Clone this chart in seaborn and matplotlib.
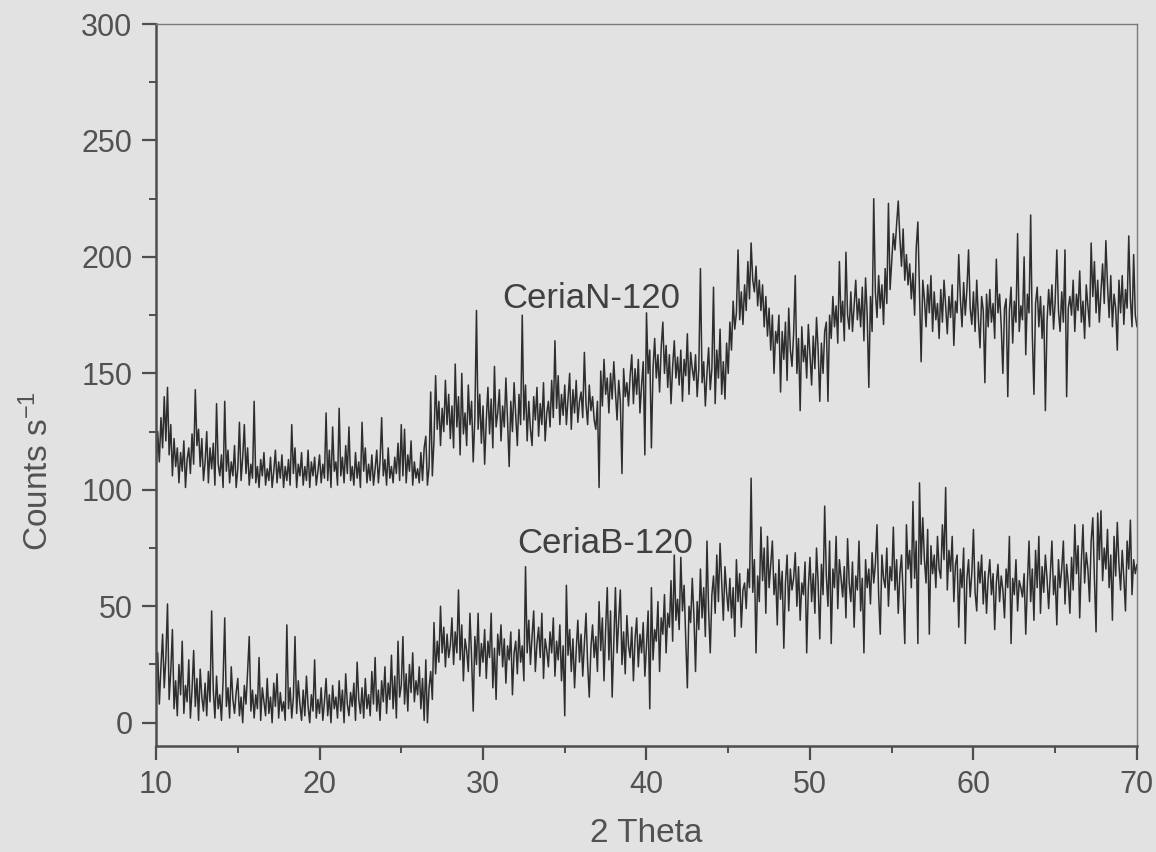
import numpy as np
import pandas as pd
import matplotlib
matplotlib.use("Agg")
import matplotlib.pyplot as plt
import seaborn as sns
from matplotlib.ticker import MultipleLocator

# Diffractogram sampled every 0.1 degree from 10 to 70 (2 theta); one row per degree
ceria_n_counts = [
    108, 125, 112, 131, 118, 140, 121, 144, 115, 128,   # 10
    106, 122, 110, 118, 103, 116, 108, 121, 101, 113,   # 11
    118, 107, 124, 111, 143, 119, 126, 110, 122, 104,   # 12
    112, 125, 103, 118, 109, 120, 102, 137, 111, 106,   # 13
    115, 101, 138, 108, 117, 103, 112, 106, 119, 101,   # 14
    109, 129, 104, 114, 128, 107, 118, 102, 111, 105,   # 15
    138, 103, 110, 101, 113, 106, 116, 102, 109, 104,   # 16
    114, 101, 108, 117, 103, 112, 105, 115, 101, 110,   # 17
    104, 113, 102, 128, 107, 118, 101, 111, 106, 116,   # 18
    102, 110, 104, 117, 101, 112, 106, 114, 102, 108,   # 19
    115, 103, 111, 105, 133, 104, 117, 101, 127, 108,   # 20
    112, 102, 135, 106, 114, 103, 119, 107, 127, 104,   # 21
    110, 102, 116, 105, 112, 101, 129, 108, 118, 103,   # 22
    111, 104, 115, 102, 109, 117, 103, 112, 131, 106,   # 23
    113, 102, 118, 105, 110, 103, 114, 107, 120, 104,   # 24
    128, 106, 126, 103, 115, 108, 121, 102, 112, 105,   # 25
    109, 103, 116, 104, 118, 123, 102, 110, 142, 106,   # 26
    121, 149, 126, 138, 119, 135, 125, 147, 128, 141,   # 27
    122, 136, 118, 154, 127, 140, 115, 150, 124, 133,   # 28
    119, 145, 128, 138, 112, 131, 177, 126, 141, 120,   # 29
    136, 111, 130, 144, 124, 139, 118, 153, 127, 133,   # 30
    143, 121, 136, 127, 148, 130, 110, 138, 125, 146,   # 31
    132, 119, 141, 128, 175, 130, 145, 121, 138, 126,   # 32
    119, 140, 130, 144, 123, 137, 128, 146, 121, 133,   # 33
    138, 127, 147, 131, 164, 135, 149, 128, 141, 132,   # 34
    145, 128, 139, 150, 126, 143, 133, 147, 129, 138,   # 35
    142, 131, 159, 137, 128, 145, 134, 140, 130, 126,   # 36
    138, 101, 151, 136, 156, 141, 148, 133, 150, 139,   # 37
    155, 142, 130, 147, 138, 107, 152, 140, 146, 136,   # 38
    149, 158, 137, 152, 141, 156, 133, 145, 155, 115,   # 39
    176, 150, 160, 118, 152, 165, 148, 158, 142, 161,   # 40
    172, 150, 162, 144, 158, 137, 153, 164, 148, 157,   # 41
    145, 160, 138, 156, 149, 167, 141, 159, 152, 147,   # 42
    158, 140, 152, 195, 146, 155, 136, 150, 161, 143,   # 43
    152, 187, 137, 160, 148, 169, 141, 155, 139, 163,   # 44
    150, 172, 160, 181, 169, 176, 203, 173, 185, 171,   # 45
    188, 177, 198, 182, 206, 190, 185, 196, 179, 190,   # 46
    177, 188, 170, 183, 166, 178, 160, 175, 150, 168,   # 47
    163, 175, 142, 168, 156, 172, 147, 178, 160, 153,   # 48
    167, 192, 150, 165, 134, 170, 155, 162, 148, 171,   # 49
    158, 145, 166, 152, 174, 160, 138, 163, 150, 168,   # 50
    172, 138, 175, 165, 183, 170, 179, 163, 198, 172,   # 51
    181, 164, 202, 175, 169, 185, 168, 179, 190, 173,   # 52
    182, 170, 187, 164, 191, 175, 144, 183, 168, 225,   # 53
    185, 174, 192, 178, 188, 171, 195, 180, 223, 186,   # 54
    198, 210, 203, 214, 224, 208, 196, 212, 190, 201,   # 55
    188, 197, 182, 193, 175, 204, 215, 184, 155, 190,   # 56
    182, 170, 188, 176, 192, 168, 185, 173, 180, 165,   # 57
    186, 172, 190, 179, 167, 183, 174, 188, 162, 181,   # 58
    176, 201, 182, 170, 189, 175, 186, 203, 178, 171,   # 59
    185, 168, 190, 174, 161, 183, 177, 146, 184, 170,   # 60
    186, 172, 180, 165, 199, 176, 184, 170, 150, 178,   # 61
    182, 140, 177, 187, 163, 181, 172, 210, 168, 179,   # 62
    173, 200, 158, 184, 176, 218, 167, 141, 180, 187,   # 63
    170, 183, 165, 179, 134, 172, 186, 175, 188, 169,   # 64
    181, 203, 177, 168, 185, 172, 203, 140, 178, 183,   # 65
    175, 190, 168, 184, 177, 194, 172, 181, 165, 188,   # 66
    179, 170, 206, 183, 198, 176, 190, 172, 185, 197,   # 67
    180, 207, 188, 174, 192, 170, 184, 178, 160, 190,   # 68
    176, 192, 171, 186, 178, 209, 182, 170, 201, 175,   # 69
    170,                                                # 70
]

ceria_b_counts = [
    12, 30, 8, 24, 38, 15, 28, 51, 10, 22,    # 10
    40, 6, 18, 3, 25, 12, 35, 4, 16, 9,       # 11
    27, 2, 14, 31, 7, 19, 1, 23, 11, 5,       # 12
    17, 3, 22, 9, 48, 14, 2, 20, 6, 12,       # 13
    1, 18, 45, 7, 15, 2, 24, 10, 4, 13,       # 14
    19, 3, 11, 0, 16, 8, 22, 37, 5, 14,       # 15
    2, 12, 6, 28, 1, 15, 9, 3, 19, 4,         # 16
    11, 0, 17, 7, 21, 2, 13, 5, 9, 1,         # 17
    42, 6, 15, 2, 11, 37, 4, 18, 8, 1,        # 18
    14, 3, 20, 7, 0, 12, 5, 27, 2, 10,        # 19
    4, 15, 1, 9, 19, 3, 12, 0, 16, 6,         # 20
    11, 2, 18, 5, 14, 0, 21, 8, 3, 13,        # 21
    7, 17, 1, 26, 10, 4, 15, 2, 19, 6,        # 22
    12, 3, 22, 8, 28, 5, 14, 1, 18, 9,        # 23
    24, 4, 17, 10, 29, 6, 20, 2, 35, 11,      # 24
    16, 37, 8, 21, 5, 25, 13, 30, 9, 18,      # 25
    12, 24, 6, 19, 1, 27, 0, 15, 22, 10,      # 26
    43, 21, 35, 26, 50, 30, 41, 24, 38, 28,   # 27
    33, 45, 25, 39, 30, 57, 27, 42, 18, 36,   # 28
    31, 22, 47, 28, 5, 37, 25, 47, 20, 34,    # 29
    26, 40, 19, 35, 28, 47, 15, 32, 10, 38,   # 30
    29, 42, 24, 36, 17, 33, 27, 39, 12, 30,   # 31
    35, 21, 40, 26, 33, 18, 67, 30, 44, 25,   # 32
    37, 48, 22, 34, 41, 28, 47, 19, 36, 31,   # 33
    24, 39, 30, 45, 20, 35, 27, 42, 18, 33,   # 34
    3, 59, 29, 40, 22, 36, 15, 31, 44, 26,    # 35
    38, 20, 34, 47, 25, 11, 32, 42, 28, 37,   # 36
    22, 52, 31, 45, 18, 40, 58, 27, 48, 11,   # 37
    35, 58, 30, 44, 57, 25, 39, 21, 46, 33,   # 38
    28, 41, 18, 36, 45, 24, 38, 30, 43, 20,   # 39
    33, 48, 6, 58, 27, 40, 35, 52, 22, 45,    # 40
    38, 55, 30, 47, 41, 61, 35, 72, 44, 53,   # 41
    40, 71, 48, 59, 36, 15, 50, 43, 62, 46,   # 42
    22, 52, 40, 66, 45, 58, 37, 78, 48, 30,   # 43
    55, 63, 47, 72, 52, 77, 60, 44, 67, 56,   # 44
    48, 62, 45, 58, 37, 70, 52, 64, 41, 57,   # 45
    60, 49, 66, 58, 105, 56, 70, 30, 63, 52,  # 46
    84, 61, 75, 47, 80, 58, 68, 78, 55, 64,   # 47
    42, 70, 53, 65, 32, 60, 72, 48, 66, 57,   # 48
    62, 73, 50, 67, 44, 60, 55, 69, 30, 58,   # 49
    71, 52, 64, 47, 75, 60, 36, 68, 55, 93,   # 50
    63, 50, 78, 34, 66, 58, 80, 49, 70, 62,   # 51
    54, 67, 45, 79, 60, 52, 69, 41, 63, 57,   # 52
    78, 48, 62, 30, 70, 58, 66, 51, 73, 60,   # 53
    68, 85, 55, 38, 72, 62, 58, 75, 50, 67,   # 54
    61, 84, 57, 70, 47, 64, 72, 55, 34, 85,   # 55
    66, 74, 58, 95, 62, 78, 34, 103, 68, 88,  # 56
    70, 60, 83, 38, 76, 64, 72, 58, 80, 66,   # 57
    62, 85, 70, 101, 57, 74, 65, 80, 52, 68,  # 58
    72, 41, 66, 58, 75, 34, 62, 70, 54, 64,   # 59
    83, 56, 48, 69, 60, 72, 51, 65, 47, 62,   # 60
    70, 55, 64, 40, 60, 68, 52, 63, 57, 45,   # 61
    66, 58, 80, 34, 62, 55, 70, 48, 61, 58,   # 62
    54, 64, 38, 60, 78, 52, 66, 44, 74, 58,   # 63
    80, 47, 67, 56, 72, 62, 49, 64, 78, 55,   # 64
    63, 42, 70, 58, 66, 78, 51, 68, 60, 47,   # 65
    71, 57, 85, 64, 76, 45, 69, 85, 60, 73,   # 66
    66, 52, 78, 88, 62, 39, 90, 70, 91, 61,   # 67
    75, 66, 83, 58, 72, 44, 80, 63, 86, 68,   # 68
    57, 74, 62, 48, 78, 66, 87, 55, 70, 64,   # 69
    68,                                       # 70
]

sample_names = ["CeriaN-120", "CeriaB-120"]
label_positions = [(31.2, 178), (32.1, 73)]   # (2 theta, counts) at label baseline-left
x_ticks = [10, 20, 30, 40, 50, 60, 70]
y_ticks = [0, 50, 100, 150, 200, 250, 300]

assert len(ceria_n_counts) == len(ceria_b_counts) == 601

theta = np.linspace(10.0, 70.0, len(ceria_n_counts))
df = pd.DataFrame({
    "two_theta": np.concatenate([theta, theta]),
    "counts": ceria_n_counts + ceria_b_counts,
    "sample": [sample_names[0]] * len(theta) + [sample_names[1]] * len(theta),
})

sns.set_theme(style="ticks")
plt.rcParams["font.family"] = ["Liberation Sans", "DejaVu Sans"]
plt.rcParams["mathtext.fontset"] = "custom"
plt.rcParams["mathtext.rm"] = "Liberation Sans"
plt.rcParams["mathtext.it"] = "Liberation Sans"

bg = "#e2e2e2"
text_col = "#525252"
axis_col = "#4e4e4e"

fig = plt.figure(figsize=(11.56, 8.52), dpi=100, facecolor=bg)
ax = fig.add_axes([0.135, 0.1244, 0.8485, 0.8474], facecolor=bg)

sns.lineplot(data=df, x="two_theta", y="counts", units="sample", estimator=None,
             color="#2e2e2e", linewidth=1.1, ax=ax, legend=False)

ax.set_xlim(10, 70)
ax.set_ylim(-10, 300)
ax.set_xticks(x_ticks)
ax.set_yticks(y_ticks)
ax.xaxis.set_minor_locator(MultipleLocator(5))
ax.yaxis.set_minor_locator(MultipleLocator(25))

for side in ("left", "bottom"):
    ax.spines[side].set_color(axis_col)
    ax.spines[side].set_linewidth(1.8)
for side in ("top", "right"):
    ax.spines[side].set_visible(True)
    ax.spines[side].set_color("#7a7a7a")
    ax.spines[side].set_linewidth(1.0)

ax.tick_params(which="major", direction="out", length=10, width=1.6,
               color=axis_col, labelsize=22, labelcolor=text_col, pad=7)
ax.tick_params(which="minor", direction="out", length=5, width=1.4, color=axis_col)
ax.tick_params(top=False, right=False, which="both")

ax.set_xlabel("2 Theta", fontsize=24, color=text_col)
ax.set_ylabel("Counts s$^{-1}$", fontsize=24, color=text_col)
ax.xaxis.set_label_coords(0.5, -0.1)
ax.yaxis.set_label_coords(-0.103, 0.38)

for name, (lx, ly) in zip(sample_names, label_positions):
    ax.text(lx, ly, name, fontsize=25, color="#404040", ha="left", va="baseline")

fig.savefig("out.png", dpi=100, facecolor=bg)
